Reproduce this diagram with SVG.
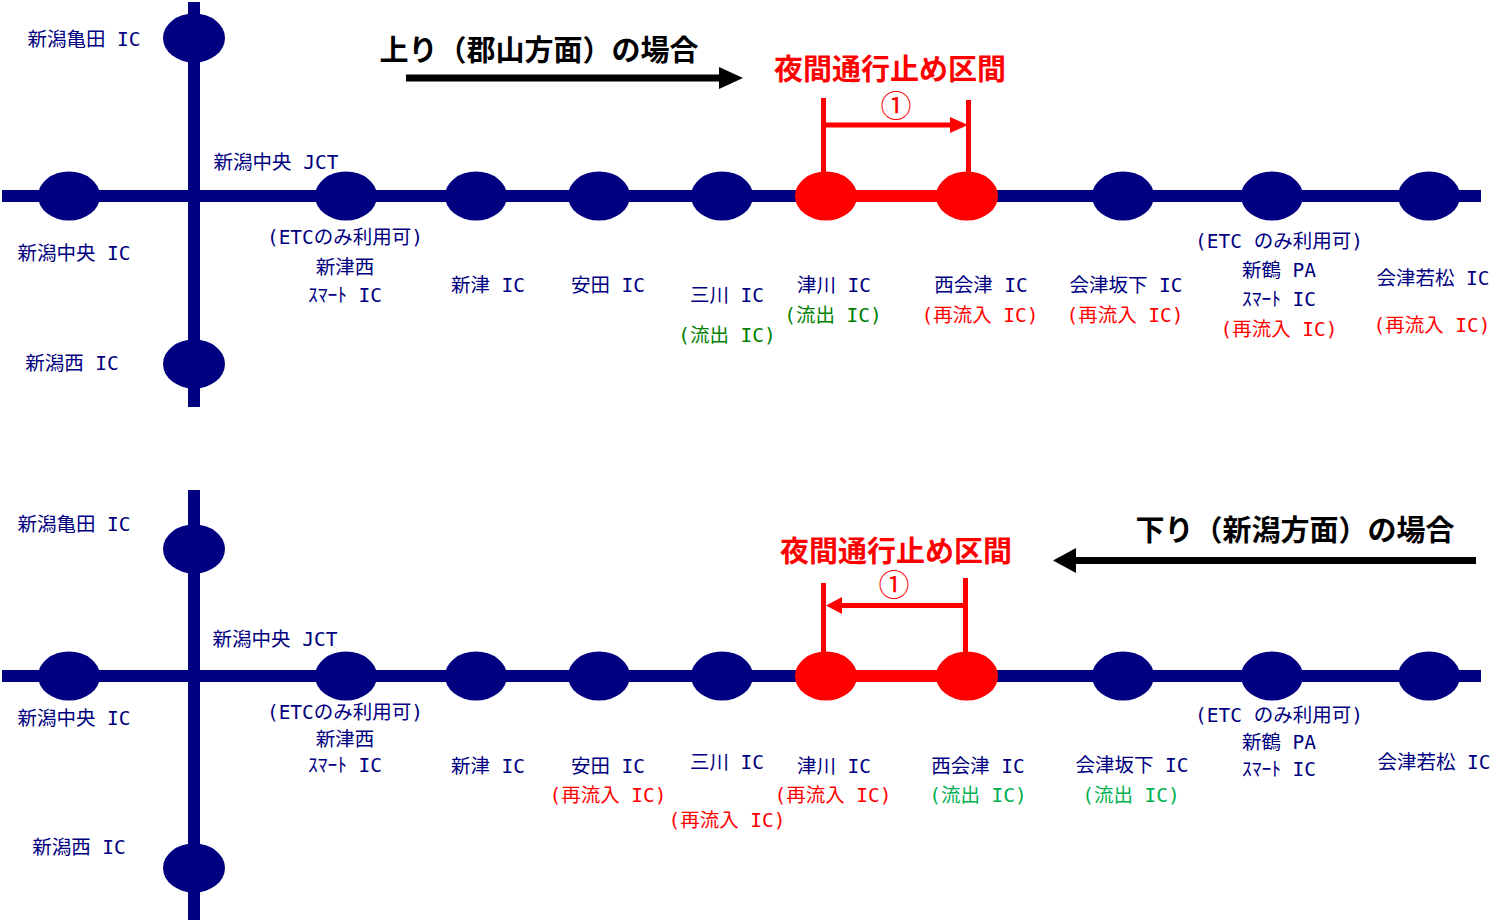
<svg xmlns="http://www.w3.org/2000/svg" width="1492" height="922" viewBox="0 0 1492 922">
<style>
.road{stroke:#000080;stroke-width:12;fill:none}
.closed{stroke:#FF0000;stroke-width:12;fill:none}
.n{fill:#000080}
.nr{fill:#FF0000}
text{font-family:'DejaVu Sans Mono','Noto Sans CJK JP',monospace;font-size:19.5px;text-anchor:middle}
.l{fill:#000080}
.red{fill:#FF0000}
.g1{fill:#008000}
.g2{fill:#00B050}
.title{font-family:'Noto Sans CJK JP','Noto Sans CJK SC',sans-serif;font-size:29px;font-weight:700}
.circ{font-family:'Noto Sans CJK JP',sans-serif;font-size:31px;fill:#FF0000}
.bar{stroke:#FF0000;stroke-width:5;fill:none}
.blk{stroke:#000000;stroke-width:7;fill:none}
</style>
<rect width="1492" height="922" fill="#FFFFFF"/>
<g id="connectors">
<line class="road" x1="2" y1="196" x2="1481" y2="196"/>
<line class="road" x1="194" y1="2" x2="194" y2="407"/>
<line class="closed" x1="826" y1="196" x2="967" y2="196"/>
<line class="road" x1="2" y1="676" x2="1481" y2="676"/>
<line class="road" x1="194" y1="490" x2="194" y2="920"/>
<line class="closed" x1="826" y1="676" x2="967" y2="676"/>
</g>
<g id="up-direction">
<text class="title" x="539" y="61" fill="#000000">上り（郡山方面）の場合</text>
<line class="blk" x1="406" y1="78" x2="722" y2="78"/>
<polygon points="719,67 743,78 719,89" fill="#000000"/>
</g>
<g id="up-closure">
<text class="title red" x="890" y="80">夜間通行止め区間</text>
<text class="circ" x="896" y="117">①</text>
<line class="bar" x1="823.5" y1="98" x2="823.5" y2="175"/>
<line class="bar" x1="968.5" y1="100" x2="968.5" y2="175"/>
<line class="bar" x1="823.5" y1="125" x2="952" y2="125"/>
<polygon points="950,117 968,125 950,133" fill="#FF0000"/>
</g>
<g id="u-kameda"><ellipse class="n" cx="194" cy="38" rx="31" ry="24.5"/><text class="l" x="84" y="46">新潟亀田 IC</text></g>
<g id="u-niigatanishi"><ellipse class="n" cx="194" cy="364" rx="31" ry="24.5"/><text class="l" x="72" y="370">新潟西 IC</text></g>
<g id="u-chuo"><ellipse class="n" cx="69" cy="196" rx="31" ry="24.5"/><text class="l" x="74" y="260">新潟中央 IC</text></g>
<g id="u-jct"><text class="l" x="276" y="169">新潟中央 JCT</text></g>
<g id="u-niitsunishi"><ellipse class="n" cx="346" cy="196" rx="31" ry="24.5"/><text class="l" x="345" y="244">(ETCのみ利用可)</text><text class="l" x="345" y="274">新津西</text><text class="l" x="345" y="302">ｽﾏｰﾄ IC</text></g>
<g id="u-niitsu"><ellipse class="n" cx="476" cy="196" rx="31" ry="24.5"/><text class="l" x="488" y="292">新津 IC</text></g>
<g id="u-yasuda"><ellipse class="n" cx="599" cy="196" rx="31" ry="24.5"/><text class="l" x="608" y="292">安田 IC</text></g>
<g id="u-mikawa"><ellipse class="n" cx="722" cy="196" rx="31" ry="24.5"/><text class="l" x="727" y="302">三川 IC</text><text class="g1" x="727" y="342">(流出 IC)</text></g>
<g id="u-tsugawa"><ellipse class="nr" cx="826" cy="196" rx="31" ry="24.5"/><text class="l" x="834" y="292">津川 IC</text><text class="g1" x="833" y="322">(流出 IC)</text></g>
<g id="u-nishiaizu"><ellipse class="nr" cx="967" cy="196" rx="31" ry="24.5"/><text class="l" x="981" y="292">西会津 IC</text><text class="red" x="980" y="322">(再流入 IC)</text></g>
<g id="u-aizubange"><ellipse class="n" cx="1123" cy="196" rx="31" ry="24.5"/><text class="l" x="1126" y="292">会津坂下 IC</text><text class="red" x="1125" y="322">(再流入 IC)</text></g>
<g id="u-niitsuru"><ellipse class="n" cx="1272" cy="196" rx="31" ry="24.5"/><text class="l" x="1279" y="248">(ETC のみ利用可)</text><text class="l" x="1279" y="277">新鶴 PA</text><text class="l" x="1279" y="306">ｽﾏｰﾄ IC</text><text class="red" x="1279" y="336">(再流入 IC)</text></g>
<g id="u-aizuwakamatsu"><ellipse class="n" cx="1429" cy="196" rx="31" ry="24.5"/><text class="l" x="1433" y="285">会津若松 IC</text><text class="red" x="1432" y="332">(再流入 IC)</text></g>
<g id="down-direction">
<text class="title" x="1295" y="541" fill="#000000">下り（新潟方面）の場合</text>
<line class="blk" x1="1074" y1="560.5" x2="1476" y2="560.5"/>
<polygon points="1076,548 1053,560.5 1076,573" fill="#000000"/>
</g>
<g id="down-closure">
<text class="title red" x="896" y="562">夜間通行止め区間</text>
<text class="circ" x="894" y="596">①</text>
<line class="bar" x1="823.5" y1="583" x2="823.5" y2="655"/>
<line class="bar" x1="965.5" y1="578" x2="965.5" y2="655"/>
<line class="bar" x1="840" y1="605.5" x2="965.5" y2="605.5"/>
<polygon points="842,597 826,605.5 842,614" fill="#FF0000"/>
</g>
<g id="d-kameda"><ellipse class="n" cx="194" cy="549" rx="31" ry="24.5"/><text class="l" x="74" y="531">新潟亀田 IC</text></g>
<g id="d-niigatanishi"><ellipse class="n" cx="194" cy="868" rx="31" ry="24.5"/><text class="l" x="79" y="854">新潟西 IC</text></g>
<g id="d-chuo"><ellipse class="n" cx="69" cy="676" rx="31" ry="24.5"/><text class="l" x="74" y="725">新潟中央 IC</text></g>
<g id="d-jct"><text class="l" x="275" y="646">新潟中央 JCT</text></g>
<g id="d-niitsunishi"><ellipse class="n" cx="346" cy="676" rx="31" ry="24.5"/><text class="l" x="345" y="719">(ETCのみ利用可)</text><text class="l" x="345" y="746">新津西</text><text class="l" x="345" y="772">ｽﾏｰﾄ IC</text></g>
<g id="d-niitsu"><ellipse class="n" cx="476" cy="676" rx="31" ry="24.5"/><text class="l" x="488" y="773">新津 IC</text></g>
<g id="d-yasuda"><ellipse class="n" cx="599" cy="676" rx="31" ry="24.5"/><text class="l" x="608" y="773">安田 IC</text><text class="red" x="608" y="802">(再流入 IC)</text></g>
<g id="d-mikawa"><ellipse class="n" cx="722" cy="676" rx="31" ry="24.5"/><text class="l" x="727" y="769">三川 IC</text><text class="red" x="727" y="827">(再流入 IC)</text></g>
<g id="d-tsugawa"><ellipse class="nr" cx="826" cy="676" rx="31" ry="24.5"/><text class="l" x="834" y="773">津川 IC</text><text class="red" x="833" y="802">(再流入 IC)</text></g>
<g id="d-nishiaizu"><ellipse class="nr" cx="967" cy="676" rx="31" ry="24.5"/><text class="l" x="978" y="773">西会津 IC</text><text class="g2" x="978" y="802">(流出 IC)</text></g>
<g id="d-aizubange"><ellipse class="n" cx="1123" cy="676" rx="31" ry="24.5"/><text class="l" x="1132" y="772">会津坂下 IC</text><text class="g2" x="1131" y="802">(流出 IC)</text></g>
<g id="d-niitsuru"><ellipse class="n" cx="1272" cy="676" rx="31" ry="24.5"/><text class="l" x="1279" y="722">(ETC のみ利用可)</text><text class="l" x="1279" y="749">新鶴 PA</text><text class="l" x="1279" y="776">ｽﾏｰﾄ IC</text></g>
<g id="d-aizuwakamatsu"><ellipse class="n" cx="1429" cy="676" rx="31" ry="24.5"/><text class="l" x="1434" y="769">会津若松 IC</text></g>
</svg>
